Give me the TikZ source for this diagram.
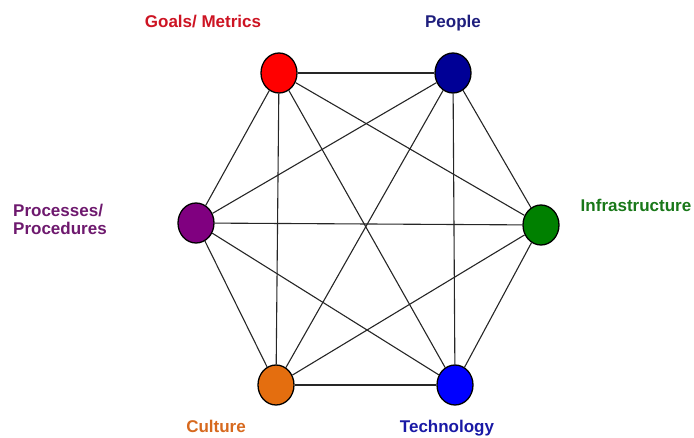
\documentclass[tikz,border=0pt]{standalone}
\usepackage{fontspec}
\setmainfont{Liberation Sans}
\usetikzlibrary{shapes.geometric}
\definecolor{goalsred}{RGB}{255,0,0}
\definecolor{goalstext}{RGB}{205,20,35}
\definecolor{peoplenavy}{RGB}{0,0,150}
\definecolor{peopletext}{RGB}{30,30,125}
\definecolor{infragreen}{RGB}{0,128,0}
\definecolor{infratext}{RGB}{25,120,25}
\definecolor{techblue}{RGB}{0,0,255}
\definecolor{techtext}{RGB}{25,25,165}
\definecolor{cultureorange}{RGB}{228,110,15}
\definecolor{culturetext}{RGB}{215,105,30}
\definecolor{procpurple}{RGB}{128,0,128}
\definecolor{proctext}{RGB}{110,25,110}
\tikzset{
    factor/.style = {draw=black, line width=1.3pt, ellipse, minimum width=36pt, minimum height=40pt, inner sep=0pt},
    factor-label/.style = {font=\fontsize{17}{18}\selectfont\bfseries, inner sep=0pt, anchor=base},
    link/.style = {draw=black!85, line width=1.1pt},
}

\begin{document}
\begin{tikzpicture}[x=1pt,y=-1pt]
\useasboundingbox (0,0) rectangle (694,438);
% the six factors
\node[factor, fill=goalsred] (goals) at (279,73) {};
\node[factor, fill=peoplenavy] (people) at (453,73) {};
\node[factor, fill=infragreen] (infra) at (541,225) {};
\node[factor, fill=techblue] (tech) at (455,385) {};
\node[factor, fill=cultureorange] (culture) at (276,385) {};
\node[factor, fill=procpurple] (proc) at (196,223) {};
% every factor linked to every other
\foreach \a/\b in {goals/people, goals/infra, goals/tech, goals/culture, goals/proc,
                   people/infra, people/tech, people/culture, people/proc,
                   infra/tech, infra/culture, infra/proc,
                   tech/culture, tech/proc, culture/proc}
    \draw[link] (\a) -- (\b);
% labels
\node[factor-label, text=goalstext] (goals-label) at (203,28) {Goals/ Metrics};
\node[factor-label, text=peopletext] (people-label) at (453,28) {People};
\node[factor-label, text=infratext] (infra-label) at (636,212) {Infrastructure};
\node[factor-label, text=techtext] (tech-label) at (447,433) {Technology};
\node[factor-label, text=culturetext] (culture-label) at (216,433) {Culture};
\node[factor-label, text=proctext, anchor=base west, align=left] (proc-label) at (13,235) {Processes/\\Procedures};
\end{tikzpicture}
\end{document}
